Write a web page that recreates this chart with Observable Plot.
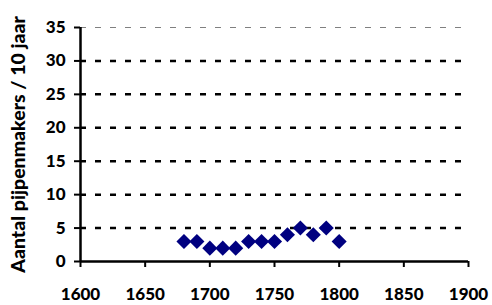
<!DOCTYPE html>
<html>
<head>
<meta charset="utf-8">
<script src="https://cdn.jsdelivr.net/npm/d3@7"></script>
<script src="https://cdn.jsdelivr.net/npm/@observablehq/plot@0.6"></script>
<style>
  html, body { margin: 0; padding: 0; background: #fff; }
</style>
</head>
<body>
<div id="chart"></div>
<script>
const years = [1680, 1690, 1700, 1710, 1720, 1730, 1740, 1750, 1760, 1770, 1780, 1790, 1800];
const counts = [3, 3, 2, 2, 2, 3, 3, 3, 4, 5, 4, 5, 3];
const xTicks = [1600, 1650, 1700, 1750, 1800, 1850, 1900];
const yTicks = [0, 5, 10, 15, 20, 25, 30, 35];
const gridValues = [5, 10, 15, 20, 25, 30];
const topValue = [35];
const yTitle = "Aantal pijpenmakers / 10 jaar";

const data = years.map((y, i) => ({year: y, count: counts[i]}));

const chart = Plot.plot({
  width: 492,
  height: 305,
  marginLeft: 80,
  marginRight: 24,
  marginTop: 27,
  marginBottom: 44,
  style: {fontFamily: "Lato, 'Open Sans', sans-serif", fontWeight: "900", color: "#000", background: "#fff"},
  x: {domain: [1600, 1900]},
  y: {domain: [0, 35]},
  marks: [
    Plot.ruleY(gridValues, {x1: 1600, x2: 1900, stroke: "#000", strokeWidth: 2.5, strokeDasharray: "6,9"}),
    Plot.ruleY(topValue, {x1: 1600, x2: 1900, stroke: "#808080", strokeWidth: 1, strokeDasharray: "6,9"}),
    Plot.axisX({ticks: xTicks, tickFormat: d => String(d), tickSize: 6, tickPadding: 20, fontSize: 17, fontWeight: "900", label: null, strokeWidth: 2}),
    Plot.axisY({ticks: yTicks, tickSize: 6, tickPadding: 9, fontSize: 17, fontWeight: "900", label: null, strokeWidth: 2}),
    Plot.ruleX([1600], {y1: 0, y2: 35, stroke: "#000", strokeWidth: 2.5}),
    Plot.ruleY([0], {x1: 1600, x2: 1900, stroke: "#000", strokeWidth: 2.5}),
    Plot.text([yTitle], {frameAnchor: "left", textAnchor: "middle", rotate: -90, dx: -62, fontSize: 19.5, fontWeight: "900", fill: "#000"}),
    Plot.dot(data, {x: "year", y: "count", symbol: "diamond2", r: 6.8, fill: "#000080", stroke: "none"})
  ]
});
document.getElementById("chart").appendChild(chart);
</script>
</body>
</html>
